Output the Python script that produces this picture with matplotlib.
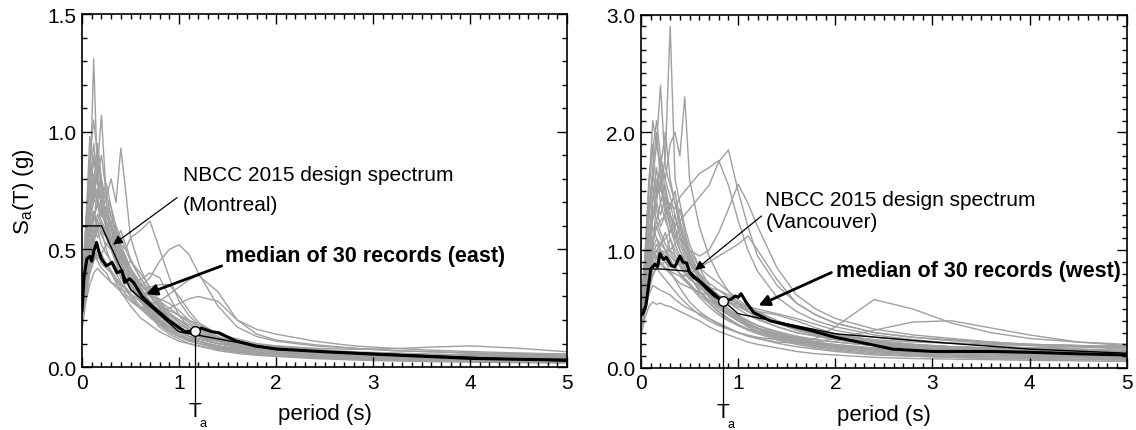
import numpy as np
import matplotlib
matplotlib.use("Agg")
import matplotlib.pyplot as plt
from matplotlib.ticker import MultipleLocator, FormatStrFormatter

plt.rcParams['font.family'] = ['Liberation Sans', 'DejaVu Sans']
plt.rcParams['mathtext.default'] = 'regular'

# periods (s) at which the individual record spectra were read
periods = [0.0, 0.04, 0.08, 0.12, 0.16, 0.2, 0.25, 0.3, 0.35, 0.4, 0.45, 0.5,
           0.6, 0.7, 0.8, 0.9, 1.0, 1.1, 1.2, 1.4, 1.6, 1.8, 2.0, 2.4, 2.8,
           3.2, 3.6, 4.0, 4.5, 5.0]

# 30 eastern records, Sa (g)
east_records = [
    [0.30, 0.55, 0.72, 1.31, 0.80, 0.70, 0.62, 0.55, 0.48, 0.44, 0.38, 0.34, 0.28, 0.22, 0.18, 0.15, 0.13, 0.12, 0.11, 0.09, 0.075, 0.065, 0.058, 0.048, 0.042, 0.038, 0.035, 0.033, 0.030, 0.028],
    [0.25, 0.45, 0.62, 0.75, 0.85, 1.07, 0.72, 0.68, 0.55, 0.50, 0.44, 0.38, 0.30, 0.24, 0.20, 0.17, 0.15, 0.13, 0.12, 0.10, 0.085, 0.075, 0.065, 0.055, 0.048, 0.042, 0.040, 0.038, 0.034, 0.030],
    [0.22, 0.40, 0.55, 0.62, 0.70, 0.66, 0.72, 0.80, 0.70, 0.93, 0.75, 0.55, 0.42, 0.33, 0.26, 0.21, 0.18, 0.16, 0.14, 0.115, 0.095, 0.085, 0.075, 0.062, 0.055, 0.050, 0.046, 0.044, 0.040, 0.036],
    [0.18, 0.30, 0.40, 0.45, 0.50, 0.48, 0.52, 0.50, 0.55, 0.52, 0.50, 0.55, 0.58, 0.62, 0.50, 0.38, 0.28, 0.22, 0.18, 0.14, 0.12, 0.10, 0.09, 0.075, 0.065, 0.06, 0.055, 0.05, 0.045, 0.04],
    [0.16, 0.28, 0.35, 0.40, 0.42, 0.40, 0.38, 0.36, 0.35, 0.33, 0.32, 0.32, 0.34, 0.38, 0.45, 0.50, 0.52, 0.48, 0.40, 0.26, 0.17, 0.13, 0.11, 0.09, 0.08, 0.07, 0.065, 0.06, 0.055, 0.05],
    [0.20, 0.32, 0.42, 0.48, 0.45, 0.42, 0.40, 0.36, 0.34, 0.32, 0.30, 0.28, 0.25, 0.26, 0.28, 0.31, 0.34, 0.37, 0.39, 0.32, 0.20, 0.14, 0.115, 0.095, 0.08, 0.07, 0.065, 0.06, 0.055, 0.05],
    [0.25, 0.42, 0.58, 0.66, 0.60, 0.62, 0.55, 0.50, 0.46, 0.42, 0.40, 0.36, 0.33, 0.34, 0.35, 0.35, 0.30, 0.24, 0.19, 0.14, 0.11, 0.095, 0.085, 0.07, 0.06, 0.055, 0.05, 0.048, 0.045, 0.04],
    [0.22, 0.38, 0.50, 0.58, 0.65, 0.60, 0.56, 0.50, 0.45, 0.40, 0.36, 0.33, 0.28, 0.25, 0.24, 0.25, 0.27, 0.29, 0.30, 0.28, 0.20, 0.16, 0.14, 0.11, 0.09, 0.08, 0.072, 0.066, 0.06, 0.055],
    [0.28, 0.48, 0.68, 0.90, 0.78, 0.70, 0.60, 0.52, 0.46, 0.42, 0.40, 0.38, 0.37, 0.40, 0.38, 0.30, 0.22, 0.17, 0.14, 0.11, 0.09, 0.08, 0.07, 0.06, 0.052, 0.046, 0.042, 0.04, 0.036, 0.032],
    [0.30, 0.60, 0.98, 0.85, 0.92, 0.75, 0.65, 0.58, 0.50, 0.45, 0.40, 0.36, 0.29, 0.23, 0.19, 0.16, 0.14, 0.12, 0.11, 0.09, 0.075, 0.065, 0.06, 0.05, 0.043, 0.038, 0.034, 0.032, 0.028, 0.025],
    [0.26, 0.50, 0.80, 0.70, 0.88, 0.65, 0.60, 0.54, 0.60, 0.48, 0.42, 0.38, 0.30, 0.24, 0.19, 0.15, 0.13, 0.115, 0.10, 0.08, 0.065, 0.058, 0.052, 0.043, 0.037, 0.033, 0.030, 0.028, 0.025, 0.022],
    [0.20, 0.38, 0.52, 0.60, 0.55, 0.58, 0.50, 0.44, 0.40, 0.36, 0.33, 0.30, 0.25, 0.21, 0.18, 0.15, 0.13, 0.12, 0.11, 0.09, 0.08, 0.07, 0.065, 0.055, 0.05, 0.045, 0.042, 0.04, 0.037, 0.034],
    [0.17, 0.30, 0.40, 0.45, 0.48, 0.44, 0.42, 0.40, 0.37, 0.34, 0.31, 0.29, 0.25, 0.22, 0.19, 0.17, 0.15, 0.14, 0.13, 0.11, 0.09, 0.08, 0.072, 0.06, 0.055, 0.052, 0.05, 0.05, 0.048, 0.045],
    [0.32, 0.62, 0.85, 0.75, 0.70, 0.80, 0.62, 0.55, 0.48, 0.44, 0.40, 0.35, 0.28, 0.22, 0.17, 0.14, 0.12, 0.10, 0.09, 0.075, 0.062, 0.055, 0.05, 0.042, 0.036, 0.032, 0.03, 0.028, 0.025, 0.022],
    [0.24, 0.45, 0.60, 0.72, 0.68, 0.62, 0.58, 0.62, 0.52, 0.46, 0.44, 0.40, 0.36, 0.30, 0.26, 0.22, 0.19, 0.16, 0.14, 0.12, 0.10, 0.095, 0.09, 0.08, 0.075, 0.078, 0.085, 0.09, 0.08, 0.065],
    [0.21, 0.36, 0.48, 0.55, 0.58, 0.52, 0.48, 0.45, 0.42, 0.40, 0.38, 0.35, 0.30, 0.25, 0.20, 0.16, 0.13, 0.11, 0.10, 0.085, 0.072, 0.065, 0.06, 0.055, 0.05, 0.048, 0.05, 0.055, 0.058, 0.055],
    [0.27, 0.50, 0.65, 0.78, 0.95, 0.80, 0.70, 0.60, 0.52, 0.48, 0.44, 0.40, 0.33, 0.28, 0.24, 0.20, 0.17, 0.15, 0.14, 0.12, 0.10, 0.09, 0.085, 0.07, 0.06, 0.055, 0.05, 0.048, 0.045, 0.04],
    [0.19, 0.34, 0.45, 0.50, 0.46, 0.48, 0.44, 0.40, 0.36, 0.32, 0.29, 0.26, 0.21, 0.18, 0.15, 0.13, 0.11, 0.10, 0.09, 0.07, 0.058, 0.05, 0.045, 0.036, 0.03, 0.026, 0.023, 0.021, 0.019, 0.017],
    [0.23, 0.42, 0.56, 0.65, 0.62, 0.68, 0.60, 0.54, 0.50, 0.46, 0.42, 0.40, 0.35, 0.31, 0.28, 0.25, 0.22, 0.19, 0.16, 0.12, 0.10, 0.09, 0.08, 0.07, 0.062, 0.056, 0.05, 0.046, 0.042, 0.038],
    [0.29, 0.52, 0.75, 0.95, 0.80, 0.72, 0.66, 0.58, 0.52, 0.50, 0.46, 0.42, 0.36, 0.30, 0.25, 0.20, 0.16, 0.13, 0.11, 0.085, 0.07, 0.06, 0.052, 0.043, 0.037, 0.033, 0.03, 0.028, 0.025, 0.023],
    [0.18, 0.32, 0.44, 0.52, 0.60, 0.56, 0.52, 0.55, 0.50, 0.46, 0.43, 0.45, 0.40, 0.34, 0.28, 0.23, 0.19, 0.16, 0.14, 0.11, 0.095, 0.085, 0.08, 0.07, 0.062, 0.058, 0.055, 0.052, 0.05, 0.046],
    [0.26, 0.48, 0.70, 0.62, 0.75, 0.70, 0.58, 0.50, 0.44, 0.38, 0.34, 0.31, 0.26, 0.22, 0.19, 0.17, 0.15, 0.13, 0.12, 0.10, 0.085, 0.075, 0.068, 0.058, 0.05, 0.045, 0.042, 0.04, 0.037, 0.034],
    [0.22, 0.40, 0.60, 0.82, 0.70, 0.64, 0.68, 0.60, 0.55, 0.50, 0.46, 0.42, 0.34, 0.27, 0.22, 0.18, 0.15, 0.13, 0.12, 0.10, 0.09, 0.08, 0.075, 0.065, 0.058, 0.053, 0.05, 0.048, 0.045, 0.042],
    [0.20, 0.36, 0.50, 0.56, 0.62, 0.58, 0.55, 0.50, 0.48, 0.44, 0.40, 0.37, 0.33, 0.30, 0.29, 0.27, 0.24, 0.20, 0.17, 0.13, 0.105, 0.09, 0.08, 0.068, 0.06, 0.054, 0.05, 0.047, 0.044, 0.04],
    [0.33, 0.60, 0.88, 1.05, 0.90, 0.78, 0.70, 0.64, 0.56, 0.50, 0.45, 0.40, 0.32, 0.26, 0.21, 0.17, 0.14, 0.12, 0.10, 0.08, 0.066, 0.056, 0.05, 0.04, 0.034, 0.03, 0.027, 0.025, 0.022, 0.02],
    [0.24, 0.44, 0.62, 0.70, 0.76, 0.72, 0.78, 0.68, 0.60, 0.55, 0.50, 0.45, 0.38, 0.32, 0.27, 0.23, 0.20, 0.17, 0.15, 0.12, 0.10, 0.09, 0.082, 0.07, 0.062, 0.056, 0.052, 0.05, 0.046, 0.042],
    [0.21, 0.38, 0.55, 0.66, 0.58, 0.62, 0.56, 0.50, 0.52, 0.47, 0.42, 0.38, 0.32, 0.28, 0.26, 0.24, 0.22, 0.20, 0.18, 0.14, 0.11, 0.095, 0.085, 0.07, 0.06, 0.054, 0.05, 0.047, 0.043, 0.04],
    [0.28, 0.55, 0.78, 0.72, 0.82, 0.90, 0.74, 0.64, 0.58, 0.52, 0.47, 0.42, 0.34, 0.28, 0.23, 0.19, 0.16, 0.14, 0.13, 0.11, 0.095, 0.085, 0.078, 0.066, 0.058, 0.052, 0.048, 0.045, 0.04, 0.036],
    [0.19, 0.33, 0.46, 0.54, 0.50, 0.46, 0.44, 0.41, 0.38, 0.35, 0.33, 0.31, 0.28, 0.26, 0.24, 0.22, 0.20, 0.18, 0.16, 0.125, 0.10, 0.085, 0.075, 0.062, 0.054, 0.05, 0.048, 0.046, 0.043, 0.04],
    [0.25, 0.46, 0.66, 0.78, 0.72, 0.66, 0.62, 0.58, 0.54, 0.58, 0.52, 0.46, 0.38, 0.31, 0.25, 0.20, 0.17, 0.15, 0.13, 0.10, 0.085, 0.075, 0.068, 0.058, 0.05, 0.046, 0.043, 0.041, 0.038, 0.035],
]

# 30 western records, Sa (g)
west_records = [
    [0.45, 0.80, 1.10, 1.40, 1.60, 1.50, 1.80, 2.90, 1.60, 1.40, 1.20, 1.05, 0.85, 0.70, 0.58, 0.50, 0.44, 0.40, 0.36, 0.30, 0.26, 0.22, 0.20, 0.17, 0.15, 0.14, 0.13, 0.12, 0.11, 0.10],
    [0.50, 0.90, 1.50, 2.10, 1.90, 2.40, 1.70, 1.55, 1.40, 1.20, 1.05, 0.95, 0.80, 0.68, 0.58, 0.50, 0.45, 0.40, 0.36, 0.30, 0.25, 0.22, 0.19, 0.16, 0.14, 0.13, 0.12, 0.115, 0.11, 0.10],
    [0.40, 0.70, 1.00, 1.30, 1.50, 1.70, 1.60, 1.90, 2.00, 1.80, 2.30, 1.60, 1.20, 0.95, 0.78, 0.65, 0.55, 0.48, 0.42, 0.35, 0.30, 0.27, 0.24, 0.20, 0.18, 0.16, 0.15, 0.14, 0.13, 0.12],
    [0.35, 0.55, 0.75, 0.90, 1.00, 1.05, 1.10, 1.15, 1.20, 1.25, 1.30, 1.35, 1.45, 1.55, 1.75, 1.85, 1.50, 1.20, 0.95, 0.70, 0.55, 0.45, 0.38, 0.30, 0.26, 0.23, 0.21, 0.19, 0.18, 0.16],
    [0.38, 0.60, 0.85, 1.05, 1.20, 1.25, 1.30, 1.40, 1.35, 1.45, 1.50, 1.55, 1.65, 1.70, 1.76, 1.55, 1.25, 1.00, 0.82, 0.60, 0.48, 0.40, 0.35, 0.28, 0.24, 0.21, 0.19, 0.17, 0.16, 0.14],
    [0.32, 0.50, 0.70, 0.85, 0.95, 1.00, 0.98, 1.00, 1.05, 1.10, 1.05, 1.00, 0.95, 1.00, 1.15, 1.35, 1.56, 1.40, 1.20, 0.85, 0.62, 0.50, 0.42, 0.33, 0.28, 0.25, 0.22, 0.20, 0.19, 0.17],
    [0.30, 0.48, 0.65, 0.78, 0.85, 0.88, 0.90, 0.86, 0.84, 0.80, 0.78, 0.80, 0.85, 0.90, 0.95, 1.00, 1.05, 1.12, 1.00, 0.75, 0.55, 0.45, 0.38, 0.30, 0.26, 0.24, 0.22, 0.20, 0.19, 0.18],
    [0.35, 0.55, 0.75, 0.90, 0.85, 0.80, 0.75, 0.70, 0.65, 0.60, 0.56, 0.52, 0.45, 0.40, 0.36, 0.33, 0.30, 0.28, 0.26, 0.24, 0.23, 0.25, 0.35, 0.58, 0.50, 0.38, 0.30, 0.25, 0.22, 0.20],
    [0.42, 0.68, 0.95, 1.20, 1.10, 1.00, 0.90, 0.82, 0.75, 0.68, 0.62, 0.56, 0.48, 0.42, 0.37, 0.33, 0.30, 0.27, 0.25, 0.22, 0.21, 0.22, 0.25, 0.32, 0.39, 0.40, 0.34, 0.28, 0.22, 0.19],
    [0.48, 0.85, 1.30, 1.70, 2.00, 1.60, 1.50, 1.30, 1.15, 1.00, 0.90, 0.82, 0.70, 0.60, 0.52, 0.46, 0.41, 0.37, 0.34, 0.29, 0.25, 0.22, 0.19, 0.16, 0.14, 0.13, 0.12, 0.11, 0.10, 0.09],
    [0.44, 0.75, 1.20, 1.00, 1.40, 1.80, 1.50, 1.35, 1.50, 1.25, 1.10, 0.95, 0.78, 0.65, 0.55, 0.48, 0.42, 0.37, 0.33, 0.27, 0.22, 0.19, 0.17, 0.14, 0.12, 0.11, 0.10, 0.095, 0.09, 0.08],
    [0.36, 0.60, 0.85, 1.00, 1.10, 1.05, 1.15, 1.00, 0.95, 0.90, 0.85, 0.80, 0.72, 0.66, 0.60, 0.56, 0.52, 0.48, 0.44, 0.38, 0.33, 0.29, 0.26, 0.22, 0.19, 0.17, 0.16, 0.15, 0.14, 0.13],
    [0.30, 0.48, 0.62, 0.70, 0.68, 0.66, 0.64, 0.62, 0.58, 0.55, 0.52, 0.50, 0.46, 0.42, 0.38, 0.34, 0.30, 0.27, 0.25, 0.21, 0.18, 0.16, 0.14, 0.11, 0.10, 0.09, 0.085, 0.08, 0.075, 0.07],
    [0.50, 0.95, 1.60, 1.90, 1.50, 1.70, 1.40, 1.20, 1.05, 0.95, 0.85, 0.78, 0.65, 0.55, 0.47, 0.41, 0.36, 0.32, 0.29, 0.24, 0.20, 0.17, 0.15, 0.12, 0.10, 0.09, 0.08, 0.075, 0.07, 0.065],
    [0.40, 0.70, 1.05, 1.35, 1.25, 1.40, 1.55, 1.30, 1.20, 1.35, 1.15, 1.00, 0.85, 0.78, 0.72, 0.65, 0.58, 0.52, 0.47, 0.40, 0.34, 0.30, 0.27, 0.23, 0.20, 0.18, 0.17, 0.16, 0.15, 0.14],
    [0.34, 0.55, 0.78, 0.95, 1.05, 1.00, 0.95, 1.10, 0.95, 0.88, 0.82, 0.76, 0.68, 0.62, 0.58, 0.55, 0.52, 0.50, 0.48, 0.45, 0.40, 0.34, 0.29, 0.23, 0.20, 0.18, 0.17, 0.16, 0.15, 0.14],
    [0.46, 0.80, 1.25, 1.55, 1.35, 1.20, 1.30, 1.10, 1.00, 0.92, 0.85, 0.78, 0.66, 0.57, 0.50, 0.45, 0.40, 0.36, 0.33, 0.28, 0.24, 0.21, 0.19, 0.16, 0.14, 0.13, 0.12, 0.11, 0.105, 0.10],
    [0.28, 0.42, 0.52, 0.56, 0.54, 0.55, 0.53, 0.52, 0.50, 0.48, 0.46, 0.44, 0.40, 0.35, 0.31, 0.28, 0.25, 0.22, 0.20, 0.17, 0.14, 0.12, 0.11, 0.09, 0.08, 0.075, 0.07, 0.065, 0.06, 0.055],
    [0.42, 0.72, 1.10, 1.45, 1.70, 1.40, 1.25, 1.15, 1.30, 1.10, 0.98, 0.90, 0.80, 0.72, 0.66, 0.60, 0.54, 0.48, 0.44, 0.38, 0.34, 0.31, 0.28, 0.24, 0.22, 0.21, 0.20, 0.20, 0.19, 0.18],
    [0.38, 0.62, 0.90, 1.10, 1.25, 1.15, 1.05, 0.98, 0.92, 0.86, 0.80, 0.75, 0.70, 0.68, 0.66, 0.62, 0.56, 0.50, 0.45, 0.38, 0.32, 0.28, 0.25, 0.21, 0.18, 0.16, 0.15, 0.14, 0.13, 0.12],
    [0.52, 0.95, 1.50, 1.85, 2.10, 1.80, 1.60, 1.45, 1.30, 1.15, 1.00, 0.90, 0.75, 0.62, 0.52, 0.45, 0.40, 0.35, 0.31, 0.26, 0.22, 0.19, 0.17, 0.14, 0.12, 0.11, 0.10, 0.095, 0.09, 0.085],
    [0.32, 0.52, 0.72, 0.85, 0.90, 0.88, 0.84, 0.80, 0.76, 0.72, 0.70, 0.68, 0.64, 0.62, 0.60, 0.58, 0.55, 0.52, 0.50, 0.46, 0.42, 0.37, 0.32, 0.26, 0.23, 0.21, 0.20, 0.19, 0.18, 0.17],
    [0.44, 0.78, 1.15, 1.30, 1.45, 1.60, 1.35, 1.20, 1.10, 1.20, 1.05, 0.92, 0.76, 0.64, 0.55, 0.48, 0.43, 0.39, 0.36, 0.31, 0.27, 0.24, 0.22, 0.19, 0.17, 0.16, 0.15, 0.14, 0.13, 0.12],
    [0.36, 0.58, 0.80, 0.92, 1.00, 0.95, 0.92, 0.88, 0.85, 0.80, 0.76, 0.72, 0.62, 0.55, 0.48, 0.42, 0.37, 0.33, 0.30, 0.25, 0.21, 0.18, 0.16, 0.13, 0.11, 0.10, 0.095, 0.09, 0.085, 0.08],
    [0.48, 0.88, 1.35, 1.65, 1.45, 1.55, 1.30, 1.40, 1.20, 1.05, 0.95, 0.88, 0.76, 0.68, 0.62, 0.56, 0.50, 0.45, 0.41, 0.35, 0.30, 0.27, 0.24, 0.21, 0.19, 0.18, 0.17, 0.16, 0.16, 0.15],
    [0.30, 0.50, 0.68, 0.80, 0.86, 0.90, 0.85, 0.82, 0.80, 0.78, 0.74, 0.70, 0.64, 0.58, 0.52, 0.46, 0.40, 0.35, 0.31, 0.26, 0.22, 0.20, 0.18, 0.16, 0.15, 0.15, 0.16, 0.17, 0.18, 0.19],
    [0.40, 0.68, 1.00, 1.25, 1.40, 1.30, 1.45, 1.25, 1.10, 1.00, 0.92, 0.85, 0.72, 0.62, 0.54, 0.48, 0.43, 0.38, 0.34, 0.28, 0.24, 0.21, 0.19, 0.16, 0.15, 0.14, 0.13, 0.13, 0.12, 0.11],
    [0.34, 0.56, 0.82, 1.00, 0.92, 1.05, 1.00, 0.95, 0.90, 0.95, 0.88, 0.82, 0.72, 0.65, 0.60, 0.56, 0.54, 0.52, 0.48, 0.40, 0.34, 0.29, 0.25, 0.20, 0.17, 0.15, 0.14, 0.13, 0.12, 0.11],
    [0.46, 0.82, 1.30, 1.60, 1.90, 1.70, 2.00, 1.60, 1.40, 1.25, 1.10, 0.98, 0.80, 0.66, 0.56, 0.48, 0.42, 0.37, 0.33, 0.27, 0.23, 0.20, 0.18, 0.15, 0.13, 0.12, 0.11, 0.10, 0.095, 0.09],
    [0.38, 0.64, 0.92, 1.10, 1.20, 1.10, 1.00, 0.92, 0.86, 0.80, 0.75, 0.70, 0.60, 0.52, 0.45, 0.40, 0.36, 0.33, 0.31, 0.28, 0.26, 0.24, 0.22, 0.19, 0.17, 0.16, 0.15, 0.145, 0.14, 0.13],
]

# medians of the 30 records
east_median_T = [0.0, 0.02, 0.05, 0.08, 0.10, 0.12, 0.15, 0.175, 0.2, 0.25, 0.31, 0.36, 0.41,
                 0.44, 0.49, 0.53, 0.62, 0.72, 0.89, 1.06, 1.16, 1.23, 1.34, 1.41, 1.58,
                 1.78, 2.0, 2.5, 3.0, 3.5, 4.0, 4.5, 5.0]
east_median = [0.24, 0.38, 0.46, 0.47, 0.45, 0.49, 0.53, 0.49, 0.46, 0.43, 0.445, 0.40, 0.41,
               0.36, 0.375, 0.36, 0.30, 0.26, 0.20, 0.15, 0.154, 0.165, 0.15, 0.146, 0.112,
               0.09, 0.077, 0.065, 0.055, 0.046, 0.037, 0.033, 0.03]

west_median_T = [0.0, 0.02, 0.05, 0.10, 0.144, 0.17, 0.195, 0.23, 0.26, 0.31, 0.35, 0.40, 0.43,
                 0.47, 0.50, 0.54, 0.61, 0.68, 0.76, 0.84, 0.92, 0.97, 1.0, 1.03, 1.08, 1.16,
                 1.33, 1.53, 1.74, 2.0, 2.24, 2.59, 3.0, 3.6, 4.0, 4.5, 5.0]
west_median = [0.45, 0.46, 0.53, 0.84, 0.88, 0.86, 0.97, 0.92, 0.94, 0.87, 0.86, 0.95, 0.90,
               0.89, 0.81, 0.77, 0.73, 0.67, 0.61, 0.571, 0.58, 0.61, 0.60, 0.63, 0.56, 0.47,
               0.40, 0.36, 0.32, 0.26, 0.22, 0.16, 0.14, 0.14, 0.133, 0.12, 0.11]

# NBCC 2015 design spectra
montreal_T = [0.0, 0.2, 0.5, 1.0, 2.0, 5.0]
montreal_Sa = [0.60, 0.60, 0.33, 0.15, 0.075, 0.025]
vancouver_T = [0.0, 0.2, 0.5, 1.0, 2.0, 3.0, 4.0, 5.0]
vancouver_Sa = [0.84, 0.84, 0.82, 0.46, 0.29, 0.22, 0.16, 0.125]

# fundamental period of the building and Sa at that period
east_Ta, east_Sa_Ta = 1.16, 0.154
west_Ta, west_Sa_Ta = 0.84, 0.571

GRAY = '#a0a0a0'
FS = 15

fig = plt.figure(figsize=(11.36, 4.31), dpi=100)
ax1 = fig.add_axes([0.0722, 0.146, 0.427, 0.819])
ax2 = fig.add_axes([0.5643, 0.144, 0.4275, 0.820])


def draw_panel(ax, records, med_T, med, des_T, des, Ta, Sa_Ta, ymax, ymaj):
    for rec in records:
        ax.plot(periods, rec, color=GRAY, lw=1.0, zorder=1)
    ax.plot(des_T, des, color='black', lw=1.0, zorder=3)
    ax.plot(med_T, med, color='black', lw=2.2, zorder=4)

    # Ta marker and leader down below the axis
    ax.plot([Ta, Ta], [Sa_Ta, -0.1 * ymax], color='black', lw=0.9,
            clip_on=False, zorder=5)
    ax.plot([Ta], [Sa_Ta], marker='o', ms=7, mfc='white', mec='black',
            mew=1.0, zorder=6, clip_on=False)
    ax.text(Ta, -0.123, 'T', transform=ax.get_xaxis_transform(),
            ha='center', va='center', fontsize=FS)
    ax.text(Ta + 0.05, -0.158, 'a', transform=ax.get_xaxis_transform(),
            ha='left', va='center', fontsize=9)

    ax.set_xlim(0, 5)
    ax.set_ylim(0, ymax)
    ax.xaxis.set_major_locator(MultipleLocator(1))
    ax.xaxis.set_minor_locator(MultipleLocator(0.1))
    ax.yaxis.set_major_locator(MultipleLocator(ymaj))
    ax.yaxis.set_minor_locator(MultipleLocator(0.1))
    ax.yaxis.set_major_formatter(FormatStrFormatter('%.1f'))
    ax.tick_params(which='both', direction='in', top=True, right=True,
                   labelsize=FS, width=1.0)
    ax.tick_params(which='major', length=7, pad=4)
    ax.tick_params(which='minor', length=3.5)
    for s in ax.spines.values():
        s.set_linewidth(1.2)
    ax.set_xlabel('period (s)', fontsize=FS + 1, labelpad=8)


draw_panel(ax1, east_records, east_median_T, east_median, montreal_T, montreal_Sa,
           east_Ta, east_Sa_Ta, 1.5, 0.5)
draw_panel(ax2, west_records, west_median_T, west_median, vancouver_T, vancouver_Sa,
           west_Ta, west_Sa_Ta, 3.0, 1.0)

ax1.set_ylabel('S$_a$(T) (g)', fontsize=FS + 1, labelpad=8)

# annotations, left
ax1.annotate('', xy=(0.32, 0.52), xytext=(0.98, 0.72),
             arrowprops=dict(arrowstyle='-|>', color='black', lw=0.9,
                             mutation_scale=14, shrinkA=0, shrinkB=0), zorder=7)
ax1.text(1.04, 0.82, 'NBCC 2015 design spectrum', fontsize=FS, va='center')
ax1.text(1.04, 0.69, '(Montreal)', fontsize=FS, va='center')
ax1.annotate('', xy=(0.66, 0.31), xytext=(1.44, 0.43),
             arrowprops=dict(arrowstyle='-|>', color='black', lw=2.0,
                             mutation_scale=16, shrinkA=0, shrinkB=0), zorder=7)
ax1.text(1.47, 0.473, 'median of 30 records (east)', fontsize=FS + 0.5,
         fontweight='bold', va='center')

# annotations, right
ax2.annotate('', xy=(0.556, 0.83), xytext=(1.24, 1.29),
             arrowprops=dict(arrowstyle='-|>', color='black', lw=0.9,
                             mutation_scale=14, shrinkA=0, shrinkB=0), zorder=7)
ax2.text(1.28, 1.43, 'NBCC 2015 design spectrum', fontsize=FS, va='center')
ax2.text(1.28, 1.24, '(Vancouver)', fontsize=FS, va='center')
ax2.annotate('', xy=(1.21, 0.53), xytext=(1.96, 0.81),
             arrowprops=dict(arrowstyle='-|>', color='black', lw=2.0,
                             mutation_scale=16, shrinkA=0, shrinkB=0), zorder=7)
ax2.text(2.01, 0.83, 'median of 30 records (west)', fontsize=FS + 0.5,
         fontweight='bold', va='center')

fig.savefig('out.png', dpi=100)
